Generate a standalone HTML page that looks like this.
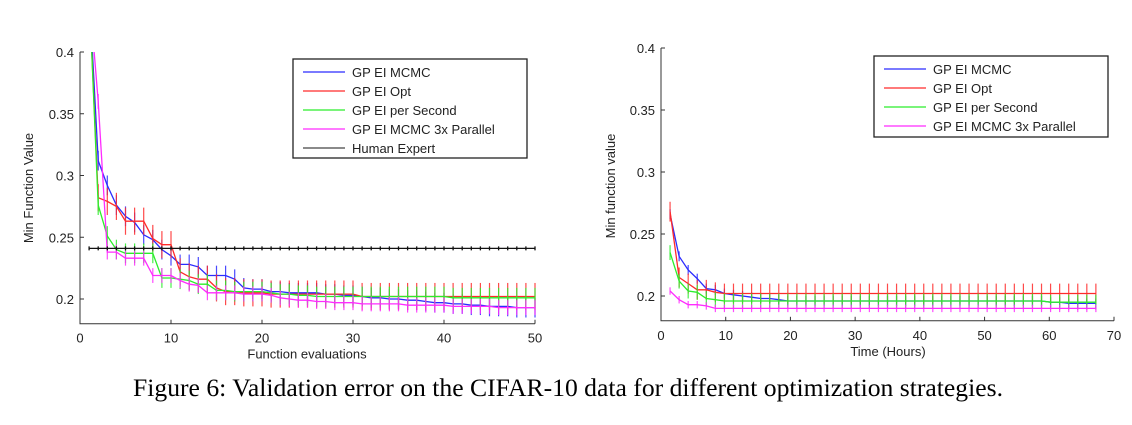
<!DOCTYPE html>
<html><head><meta charset="utf-8"><style>
html,body{margin:0;padding:0;background:#fff;}
svg{display:block;font-family:"Liberation Sans",sans-serif;}
</style></head><body>
<svg id="fig" width="1132" height="425">
<text x="133" y="396" textLength="870" lengthAdjust="spacingAndGlyphs" font-family="Liberation Serif, serif" font-size="25" fill="#000">Figure 6: Validation error on the CIFAR-10 data for different optimization strategies.</text>
</svg>
<script>
// ---- left chart data ----
const leftX = [1,2,3,4,5,6,7,8,9,10,11,12,13,14,15,16,17,18,19,20,21,22,23,24,25,26,27,28,29,30,31,32,33,34,35,36,37,38,39,40,41,42,43,44,45,46,47,48,49,50];
const leftBlue = [0.45,0.312,0.292,0.276,0.267,0.262,0.252,0.248,0.240,0.235,0.228,0.228,0.226,0.219,0.219,0.219,0.216,0.209,0.208,0.208,0.206,0.206,0.205,0.205,0.205,0.205,0.204,0.204,0.203,0.203,0.202,0.201,0.201,0.200,0.200,0.199,0.199,0.198,0.197,0.197,0.196,0.196,0.195,0.195,0.194,0.194,0.194,0.193,0.193,0.193];
const leftRed = [0.45,0.282,0.279,0.275,0.263,0.263,0.263,0.249,0.244,0.244,0.222,0.218,0.216,0.216,0.209,0.206,0.206,0.205,0.205,0.205,0.204,0.204,0.204,0.204,0.204,0.204,0.204,0.204,0.204,0.204,0.202,0.202,0.202,0.202,0.202,0.202,0.202,0.202,0.202,0.202,0.202,0.202,0.202,0.202,0.202,0.202,0.202,0.202,0.202,0.202];
const leftGreen = [0.45,0.276,0.251,0.240,0.237,0.237,0.237,0.237,0.217,0.217,0.216,0.215,0.212,0.212,0.207,0.207,0.206,0.206,0.206,0.206,0.205,0.204,0.204,0.203,0.203,0.202,0.202,0.202,0.202,0.202,0.202,0.202,0.202,0.202,0.202,0.202,0.202,0.202,0.202,0.202,0.201,0.201,0.201,0.201,0.201,0.201,0.201,0.201,0.201,0.201];
const leftMagenta = [0.45,0.36,0.238,0.238,0.233,0.233,0.233,0.219,0.219,0.219,0.215,0.212,0.211,0.205,0.205,0.205,0.205,0.204,0.204,0.204,0.203,0.201,0.200,0.199,0.199,0.198,0.198,0.197,0.197,0.197,0.196,0.196,0.196,0.196,0.196,0.195,0.195,0.195,0.195,0.195,0.194,0.194,0.194,0.194,0.194,0.193,0.193,0.193,0.193,0.193];
const leftErr = [0.008,0.011,0.008,0.006];
const humanExpert = 0.241;
const leftXTicks = [0,10,20,30,40,50];
const yTicks = [0.2,0.25,0.3,0.35,0.4];
const yTickLabels = ["0.2","0.25","0.3","0.35","0.4"];
// ---- right chart data ----
const rightX = [1.4,2.8,4.2,5.6,7.0,8.4,9.8,11.2,12.6,14.0,15.4,16.8,18.2,19.6,21.0,22.4,23.8,25.2,26.6,28.0,29.4,30.8,32.2,33.6,35.0,36.4,37.8,39.2,40.6,42.0,43.4,44.8,46.2,47.6,49.0,50.4,51.8,53.2,54.6,56.0,57.4,58.8,60.2,61.6,63.0,64.4,65.8,67.2];
const rightBlue = [0.266,0.232,0.221,0.214,0.206,0.205,0.202,0.201,0.200,0.199,0.198,0.198,0.197,0.196,0.196,0.196,0.196,0.196,0.196,0.196,0.196,0.196,0.196,0.196,0.196,0.196,0.196,0.196,0.196,0.196,0.196,0.196,0.196,0.196,0.196,0.196,0.196,0.196,0.196,0.196,0.196,0.196,0.195,0.195,0.194,0.194,0.194,0.194];
const rightRed = [0.268,0.215,0.210,0.205,0.205,0.203,0.202,0.202,0.202,0.202,0.202,0.202,0.202,0.202,0.202,0.202,0.202,0.202,0.202,0.202,0.202,0.202,0.202,0.202,0.202,0.202,0.202,0.202,0.202,0.202,0.202,0.202,0.202,0.202,0.202,0.202,0.202,0.202,0.202,0.202,0.202,0.202,0.202,0.202,0.202,0.202,0.202,0.202];
const rightGreen = [0.235,0.212,0.204,0.203,0.198,0.197,0.196,0.196,0.196,0.196,0.196,0.196,0.196,0.196,0.196,0.196,0.196,0.196,0.196,0.196,0.196,0.196,0.196,0.196,0.196,0.196,0.196,0.196,0.196,0.196,0.196,0.196,0.196,0.196,0.196,0.196,0.196,0.196,0.196,0.196,0.196,0.196,0.195,0.195,0.195,0.195,0.195,0.195];
const rightMagenta = [0.204,0.197,0.193,0.193,0.192,0.190,0.190,0.190,0.190,0.190,0.190,0.190,0.190,0.190,0.190,0.190,0.190,0.190,0.190,0.190,0.190,0.190,0.190,0.190,0.190,0.190,0.190,0.190,0.190,0.190,0.190,0.190,0.190,0.190,0.190,0.190,0.190,0.190,0.190,0.190,0.190,0.190,0.190,0.190,0.190,0.190,0.190,0.190];
const rightErr = [0.004,0.008,0.006,0.003];
const rightXTicks = [0,10,20,30,40,50,60,70];
const seriesNames = ["GP EI MCMC","GP EI Opt","GP EI per Second","GP EI MCMC 3x Parallel"];
const colors = ["#2b2bff","#ff2b2b","#2bee2b","#ff2bff"];

const NS = "http://www.w3.org/2000/svg";
const svg = document.getElementById("fig");
function mk(tag, attrs, parent){
  const e = document.createElementNS(NS, tag);
  for (const k in attrs) e.setAttribute(k, attrs[k]);
  (parent||svg).appendChild(e);
  return e;
}

function drawChart(cfg){
  const g = mk("g", {});
  
  
  const sx = v => cfg.x0 + (v - cfg.xmin) * (cfg.x1 - cfg.x0) / (cfg.xmax - cfg.xmin);
  const sy = v => cfg.y0 + (v - 0.2) * (cfg.y1 - cfg.y0) / 0.2;
  const yBot = sy(0.18), yTop = sy(0.4);
  const clipId = cfg.name + "-clip";
  const defs = mk("defs", {}, g);
  const cp = mk("clipPath", {id: clipId}, defs);
  mk("rect", {x: cfg.x0 - 20, y: yTop, width: cfg.x1 - cfg.x0 + 40, height: yBot - yTop}, cp);
  const plot = mk("g", {"clip-path": "url(#" + clipId + ")"}, g);
  
  
  cfg.series.forEach((s, si) => {
    const sg = mk("g", {}, plot);
    
    
    const c = colors[si];
    s.forEach((v, i) => {
      const x = sx(cfg.xs[i]);
      const e = mk("line", {x1: x, x2: x, y1: sy(v - cfg.err[si]), y2: sy(v + cfg.err[si]), stroke: c, "stroke-width": 1.2, opacity: 0.85}, sg);
      
      
    });
    const pts = s.map((v, i) => sx(cfg.xs[i]).toFixed(1) + "," + sy(v).toFixed(1)).join(" ");
    const pl = mk("polyline", {points: pts, fill: "none", stroke: c, "stroke-width": 1.3}, sg);
    
    
  });
  if (cfg.human) {
    const hg = mk("g", {}, plot);
    
    
    const hy = sy(humanExpert);
    const hl = mk("line", {x1: sx(1), x2: sx(50), y1: hy, y2: hy, stroke: "#111", "stroke-width": 1.3}, hg);
    
    
    cfg.xs.forEach(xv => {
      const d = mk("line", {x1: sx(xv), x2: sx(xv), y1: hy - 2, y2: hy + 2, stroke: "#111", "stroke-width": 1.3}, hg);
      
      
    });
  }
  const ax = mk("path", {d: "M" + cfg.x0 + "," + yTop + " V" + yBot + " H" + cfg.x1, fill: "none", stroke: "#333", "stroke-width": 1}, g);
  
  
  cfg.xticks.forEach(t => {
    const x = sx(t);
    mk("line", {x1: x, x2: x, y1: yBot, y2: yBot - 4, stroke: "#333"}, g);
    const tx = mk("text", {x: x, y: yBot + 19, "text-anchor": "middle", "font-size": 13, fill: "#222"}, g);
    tx.textContent = t;
    
    
  });
  yTicks.forEach((t, i) => {
    const y = sy(t);
    mk("line", {x1: cfg.x0, x2: cfg.x0 + 4, y1: y, y2: y, stroke: "#333"}, g);
    const tx = mk("text", {x: cfg.x0 - 6, y: y + 5, "text-anchor": "end", "font-size": 13, fill: "#222"}, g);
    tx.textContent = yTickLabels[i];
    
    
  });
  const xt = mk("text", {x: cfg.xTitleX, y: yBot + 35, "text-anchor": "middle", "font-size": 13, fill: "#222"}, g);
  xt.textContent = cfg.xTitle;
  
  
  const yt = mk("text", {x: 0, y: 0, "text-anchor": "middle", "font-size": 13, fill: "#222", transform: "translate(" + cfg.yTitleX + "," + cfg.yTitleY + ") rotate(-90)"}, g);
  yt.textContent = cfg.yTitle;
  
  
  const L = cfg.legend;
  const lg = mk("g", {}, g);
  
  
  mk("rect", {x: L.x, y: L.y, width: L.w, height: L.h, fill: "#fff", stroke: "#222", "stroke-width": 1.3}, lg);
  L.labels.forEach((lab, i) => {
    const yy = L.y + 13 + i * 19;
    const entry = mk("g", {}, lg);
    
    
    mk("line", {x1: L.x + 10, x2: L.x + 52, y1: yy, y2: yy, stroke: L.colors[i], "stroke-width": 1.3}, entry);
    const t = mk("text", {x: L.x + 59, y: yy + 5, "font-size": 13, fill: "#222"}, entry);
    t.textContent = lab;
  });
}

drawChart({name: "left-chart", x0: 80, x1: 535, xmin: 0, xmax: 50, y0: 299, y1: 52,
  xs: leftX, series: [leftBlue, leftRed, leftGreen, leftMagenta], err: leftErr, human: true,
  xticks: leftXTicks, xTitle: "Function evaluations", xTitleX: 307, yTitle: "Min Function Value", yTitleX: 33, yTitleY: 188,
  legend: {x: 293, y: 59, w: 234, h: 99, labels: seriesNames.concat(["Human Expert"]), colors: colors.concat(["#444"])}});

drawChart({name: "right-chart", x0: 661, x1: 1114, xmin: 0, xmax: 70, y0: 296, y1: 48,
  xs: rightX, series: [rightBlue, rightRed, rightGreen, rightMagenta], err: rightErr, human: false,
  xticks: rightXTicks, xTitle: "Time (Hours)", xTitleX: 888, yTitle: "Min function value", yTitleX: 615, yTitleY: 186,
  legend: {x: 874, y: 56, w: 234, h: 81, labels: seriesNames, colors: colors}});
</script>
</body></html>
